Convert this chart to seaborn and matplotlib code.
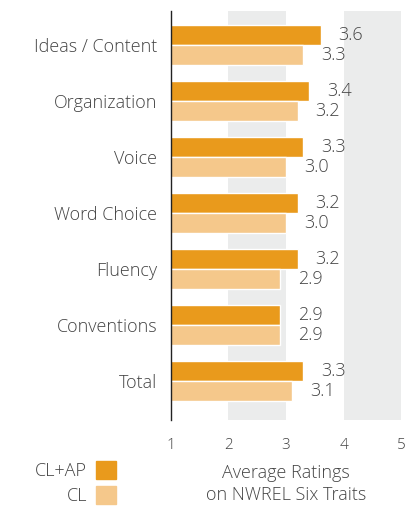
import matplotlib
matplotlib.use("Agg")
import matplotlib.pyplot as plt
from matplotlib.patches import Patch
import pandas as pd
import seaborn as sns

categories = ["Ideas / Content", "Organization", "Voice", "Word Choice",
              "Fluency", "Conventions", "Total"]
cl_ap = [3.6, 3.4, 3.3, 3.2, 3.2, 2.9, 3.3]
cl = [3.3, 3.2, 3.0, 3.0, 2.9, 2.9, 3.1]
groups = ["CL+AP", "CL"]
xticks = [1, 2, 3, 4, 5]

dark = "#E99A1C"
light = "#F5C88B"
band = "#EBECEC"
txt = "#444444"

sns.set_theme(style="white")
plt.rcParams["font.family"] = ["Open Sans", "DejaVu Sans"]

df = pd.DataFrame({
    "Trait": categories * 2,
    "Rating": cl_ap + cl,
    "Group": [groups[0]] * len(categories) + [groups[1]] * len(categories),
})

fig = plt.figure(figsize=(4.06, 5.08), dpi=100)
ax = fig.add_axes([0.421, 0.173, 0.567, 0.805])

ax.axvspan(2, 3, color=band, zorder=0, lw=0)
ax.axvspan(4, 5, color=band, zorder=0, lw=0)

sns.barplot(data=df, x="Rating", y="Trait", hue="Group", orient="h",
            palette=[dark, light], width=0.72, legend=False, ax=ax,
            saturation=1, zorder=2)

for cont in ax.containers:
    ax.bar_label(cont, fmt="%.1f", padding=13, fontsize=13, color=txt,
                 fontweight="light")

ax.set_xlim(1, 5)
ax.set_ylim(6.696, -0.607)
ax.set_xticks(xticks)
ax.set_xticklabels([str(t) for t in xticks])
ax.tick_params(axis="x", length=0, pad=13, labelsize=11, labelcolor=txt)
ax.tick_params(axis="y", length=0, pad=10, labelsize=13, labelcolor=txt)
for lab in ax.get_xticklabels() + ax.get_yticklabels():
    lab.set_fontweight("light")
ax.set_ylabel("")
ax.set_xlabel("Average Ratings\non NWREL Six Traits", fontsize=13,
              color=txt, labelpad=8, linespacing=1.25, fontweight="light")

for s in ["top", "right", "bottom"]:
    ax.spines[s].set_visible(False)
ax.spines["left"].set_color("#222222")
ax.spines["left"].set_linewidth(1.0)
ax.spines["left"].set_zorder(3)

handles = [Patch(color=dark, label=groups[0]), Patch(color=light, label=groups[1])]
fig.legend(handles=handles, loc="upper right", bbox_to_anchor=(0.304, 0.106),
           frameon=False, markerfirst=False, handlelength=1.1, handleheight=1.1,
           handletextpad=0.5, labelspacing=0.35, borderaxespad=0,
           prop={"size": 13, "weight": "light"}, labelcolor=txt,
           alignment="right")

fig.savefig("out.png", dpi=100)
